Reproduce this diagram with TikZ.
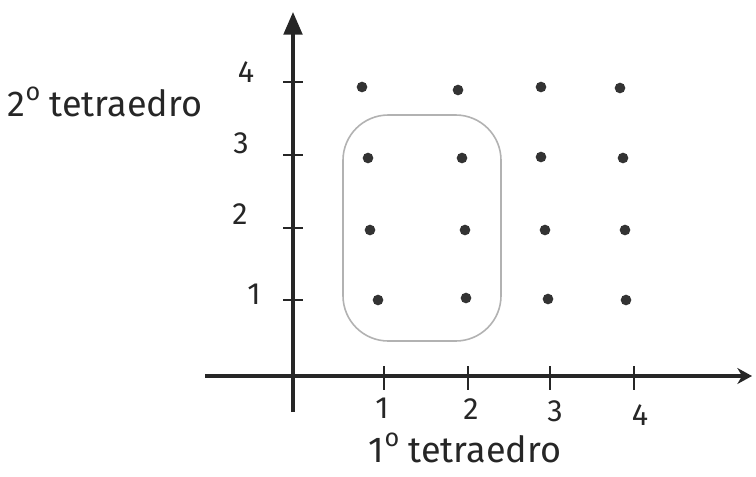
\documentclass[tikz,border=0pt]{standalone}
\usepackage{fontspec}
\setmainfont{Fira Sans}
\usetikzlibrary{arrows.meta}
\newcommand{\ordo}{\raisebox{0.45em}{\scalebox{0.7}{o}}}
\begin{document}
\begin{tikzpicture}[x=0.75pt,y=-0.75pt,
  axis/.style={line width=2.4pt,black!85},
  tickmark/.style={line width=2pt,black!85},
  dotnode/.style={circle,fill=black!80,inner sep=0pt,minimum size=8pt},
  numlabel/.style={font=\fontsize{23}{25}\selectfont,text=black!85},
  axislabel/.style={font=\fontsize{27}{29}\selectfont,text=black!85},
  blob/.style={draw=black!30,line width=1.2pt,rounded corners=34pt}]
\useasboundingbox (0,0) rectangle (756,476);
% axes
\coordinate (O) at (293,376);
\coordinate (ybot) at (293,412);
\coordinate (ytop) at (293,12);
\coordinate (xleft) at (205,376);
\coordinate (xright) at (752,376);
\draw[axis,-{Triangle[length=17pt,width=14pt]}] (ybot) -- (ytop);
\draw[axis,-{Stealth[length=11pt,width=12pt]}] (xleft) -- (xright);
% y ticks
\foreach \n/\y in {1/300,2/228,3/155,4/82}{
  \coordinate (ty\n a) at (283,\y);
  \coordinate (ty\n b) at (303,\y);
  \draw[tickmark] (ty\n a) -- (ty\n b);
}
\node[numlabel] (ly4) at (246,72) {4};
\node[numlabel] (ly3) at (241,143) {3};
\node[numlabel] (ly2) at (240,214) {2};
\node[numlabel] (ly1) at (254,294) {1};
% x ticks
\foreach \n/\x in {1/384,2/468,3/550,4/634}{
  \coordinate (tx\n a) at (\x,366);
  \coordinate (tx\n b) at (\x,390);
  \draw[tickmark] (tx\n a) -- (tx\n b);
}
\node[numlabel] (lx1) at (382,408) {1};
\node[numlabel] (lx2) at (471,409) {2};
\node[numlabel] (lx3) at (555,411) {3};
\node[numlabel] (lx4) at (640,415) {4};
% dots
\node[dotnode] (d41) at (362,87) {};
\node[dotnode] (d42) at (458,90) {};
\node[dotnode] (d43) at (541,87) {};
\node[dotnode] (d44) at (620,88) {};
\node[dotnode] (d31) at (368,158) {};
\node[dotnode] (d32) at (462,158) {};
\node[dotnode] (d33) at (541,157) {};
\node[dotnode] (d34) at (623,158) {};
\node[dotnode] (d21) at (370,230) {};
\node[dotnode] (d22) at (465,230) {};
\node[dotnode] (d23) at (545,230) {};
\node[dotnode] (d24) at (625,230) {};
\node[dotnode] (d11) at (378,300) {};
\node[dotnode] (d12) at (466,298) {};
\node[dotnode] (d13) at (548,299) {};
\node[dotnode] (d14) at (626,300) {};
% enclosing curve
\draw[blob] (343,115) rectangle (501,341);
% axis labels
\node[axislabel] (ylab) at (105,102) {2\ordo\ tetraedro};
\node[axislabel] (xlab) at (465,448) {1\ordo\ tetraedro};
\end{tikzpicture}
\end{document}
